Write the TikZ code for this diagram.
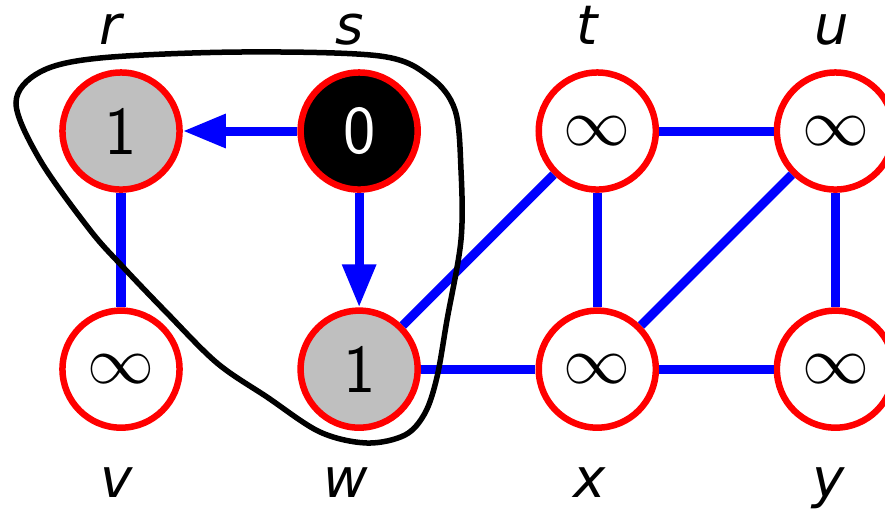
\documentclass[tikz,border=0pt]{standalone}
\usepackage{graphicx}
\usepackage{fontspec}
\newfontfamily\lblfont{DejaVu Sans}
\definecolor{bfsRed}{RGB}{255,0,0}
\definecolor{bfsBlue}{RGB}{0,0,255}
\definecolor{bfsGray}{RGB}{191,191,191}
\newcommand{\inftysym}{\scalebox{1.1}{$\infty$}}
\usetikzlibrary{arrows.meta,positioning}

\begin{document}
\begin{tikzpicture}[
  x=0.01cm, y=-0.01cm,
  vertex/.style={circle, draw=bfsRed, line width=0.065cm, minimum size=1.17cm,
                 inner sep=0pt, fill=white, font=\fontsize{17.28}{20}\selectfont},
  seen/.style={vertex, fill=bfsGray, font=\fontsize{19.5}{21}\sffamily},
  source/.style={seen, fill=black, text=white},
  lbl/.style={font=\fontsize{15.5}{18}\lblfont\itshape, inner sep=0pt},
  edge/.style={bfsBlue, line width=0.09cm},
  arr/.style={edge, -{Triangle[length=0.43cm, width=0.32cm]}},
  node distance=2.38cm, on grid
]
  \useasboundingbox (0,0) rectangle (885,511);

  \node[seen]                  (r) at (121,131) {1};
  \node[source, right=of r]    (s) {0};
  \node[vertex, right=of s]    (t) {\inftysym};
  \node[vertex, right=of t]    (u) {\inftysym};
  \node[vertex, below=of r]    (v) {\inftysym};
  \node[seen,   right=of v]    (w) {1};
  \node[vertex, right=of w]    (x) {\inftysym};
  \node[vertex, right=of x]    (y) {\inftysym};

  \draw[edge] (r) -- (v);
  \draw[arr]  (s) -- (r);
  \draw[arr]  (s) -- (w);
  \draw[edge] (w) -- (t);
  \draw[edge] (w) -- (x);
  \draw[edge] (t) -- (u);
  \draw[edge] (t) -- (x);
  \draw[edge] (x) -- (u);
  \draw[edge] (x) -- (y);
  \draw[edge] (u) -- (y);

  \node[lbl, above=0.86cm of r, anchor=base, xshift=-0.1cm]  (rlab) {r};
  \node[lbl, above=0.86cm of s, anchor=base, xshift=-0.09cm] (slab) {s};
  \node[lbl, above=0.86cm of t, anchor=base, xshift=-0.1cm]  (tlab) {t};
  \node[lbl, above=0.86cm of u, anchor=base, xshift=-0.04cm] (ulab) {u};
  \node[lbl, below=1.28cm of v, anchor=base, xshift=-0.04cm] (vlab) {v};
  \node[lbl, below=1.28cm of w, anchor=base, xshift=-0.13cm] (wlab) {w};
  \node[lbl, below=1.28cm of x, anchor=base, xshift=-0.08cm] (xlab) {x};
  \node[lbl, below=1.28cm of y, anchor=base, xshift=-0.07cm] (ylab) {y};

  % frontier around the visited vertices
  \draw[line width=0.055cm] plot[smooth cycle, tension=0.55] coordinates {
    (16,103) (40,72) (100,58) (240,52) (380,56) (430,77) (455,110)
    (461,170) (461,240) (447,320) (437,377) (425,413) (405,435) (367,443)
    (320,432) (267,397) (217,363) (167,313) (123,267) (90,230) (40,160)};
\end{tikzpicture}
\end{document}
